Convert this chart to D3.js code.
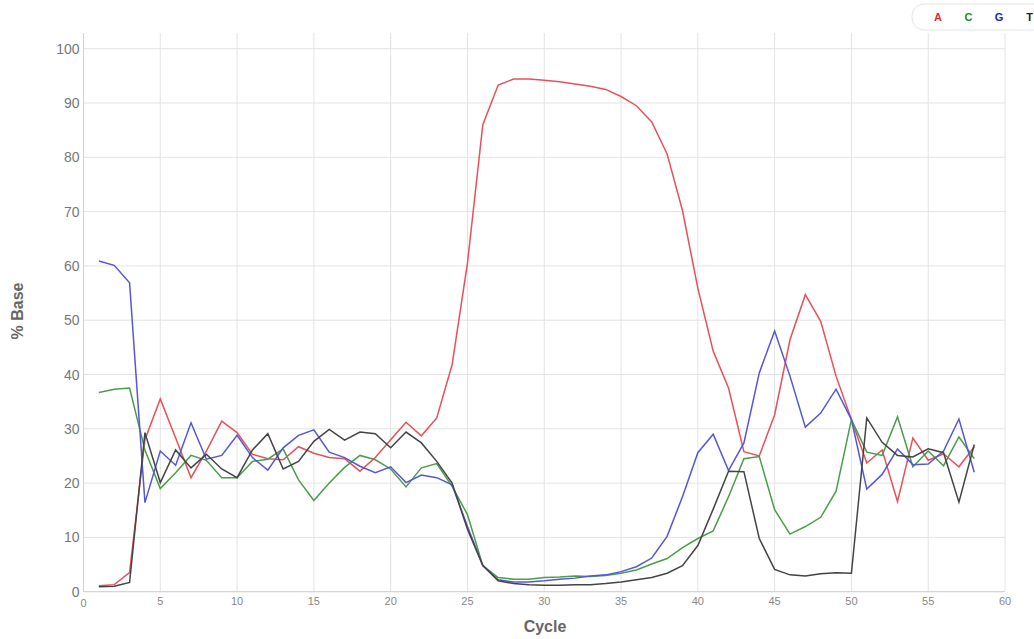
<!DOCTYPE html>
<html>
<head>
<meta charset="utf-8">
<script src="https://cdn.jsdelivr.net/npm/d3@7"></script>
<style>
  body { margin: 0; background: #fff; font-family: "Liberation Sans", Arial, sans-serif; }
</style>
</head>
<body>
<div id="chart"></div>
<script>
// per-cycle base composition, cycles 1..58
var cycles = d3.range(1, 59);
var baseA = [1.1, 1.3, 3.5, 28.0, 35.5, 28.3, 21.0, 25.9, 31.4, 29.3, 25.3, 24.5, 24.3, 26.7, 25.5, 24.7, 24.5, 22.2, 24.7, 28.0,
  31.2, 28.7, 32.0, 41.8, 60.5, 86.0, 93.3, 94.4, 94.4, 94.2, 93.9, 93.5, 93.1, 92.5, 91.2, 89.5, 86.5, 80.6, 70.2, 55.9,
  44.3, 37.5, 25.8, 25.0, 32.6, 46.4, 54.7, 49.8, 39.7, 31.7, 23.7, 26.1, 16.6, 28.3, 24.2, 25.4, 23.0, 26.7];
var baseC = [36.7, 37.3, 37.5, 26.1, 19.0, 21.9, 25.1, 24.2, 21.0, 21.0, 24.0, 24.4, 26.3, 20.6, 16.8, 20.0, 22.9, 25.1, 24.3, 22.6,
  19.3, 22.8, 23.6, 19.4, 14.2, 4.8, 2.6, 2.3, 2.3, 2.6, 2.7, 2.9, 2.8, 3.0, 3.4, 4.0, 5.1, 6.1, 8.1, 9.8,
  11.2, 17.5, 24.5, 24.9, 15.1, 10.6, 12.0, 13.7, 18.5, 31.7, 25.7, 25.1, 32.2, 23.0, 25.9, 23.2, 28.5, 24.5];
var baseG = [60.9, 60.1, 56.9, 16.4, 25.9, 23.3, 31.1, 24.4, 25.1, 28.8, 24.7, 22.4, 26.5, 28.8, 29.8, 25.7, 24.7, 23.1, 21.9, 23.0,
  20.1, 21.5, 21.0, 19.7, 12.0, 4.8, 2.2, 1.8, 1.8, 2.0, 2.3, 2.5, 2.9, 3.1, 3.7, 4.6, 6.2, 10.2, 17.5, 25.6,
  29.0, 22.3, 27.4, 40.3, 48.0, 39.7, 30.3, 32.9, 37.3, 31.7, 18.9, 21.6, 26.3, 23.4, 23.5, 25.9, 31.8, 22.0];
var baseT = [0.9, 1.0, 1.7, 29.3, 20.1, 26.1, 22.8, 25.3, 22.6, 21.0, 26.1, 29.1, 22.6, 24.0, 27.7, 29.9, 27.9, 29.4, 29.1, 26.5,
  29.4, 27.4, 24.0, 20.0, 11.5, 4.8, 2.0, 1.5, 1.3, 1.2, 1.2, 1.3, 1.3, 1.5, 1.8, 2.2, 2.6, 3.4, 4.8, 8.5,
  15.2, 22.2, 22.1, 9.8, 4.1, 3.1, 2.9, 3.3, 3.5, 3.4, 32.0, 27.5, 25.1, 24.8, 26.3, 25.6, 16.5, 27.1];

var baseNames = ["A", "C", "G", "T"];
var baseColors = ["#e8505a", "#4a9e4a", "#5555dd", "#444444"];
var legendColors = ["#dd2c3a", "#1f8a2a", "#2222bb", "#222222"];
var xTicks = d3.range(0, 61, 5);
var yTicks = d3.range(0, 101, 10);

var series = [baseA, baseC, baseG, baseT];

var width = 1034, height = 639;
var svg = d3.select("#chart").append("svg")
  .attr("width", width).attr("height", height);

var x = d3.scaleLinear().domain([0, 60]).range([83.5, 1005]);
var y = d3.scaleLinear().domain([0, 100]).range([591.7, 48.7]);
var plotTop = 33;

// grid
svg.append("g").selectAll("line.v")
  .data(xTicks).enter().append("line")
  .attr("x1", d => x(d)).attr("x2", d => x(d))
  .attr("y1", plotTop).attr("y2", y(0))
  .attr("stroke", "#e3e3e3").attr("stroke-width", 1);

svg.append("g").selectAll("line.h")
  .data(yTicks).enter().append("line")
  .attr("x1", x(0)).attr("x2", x(60))
  .attr("y1", d => y(d)).attr("y2", d => y(d))
  .attr("stroke", "#e3e3e3").attr("stroke-width", 1);

// axis lines
svg.append("line")
  .attr("x1", x(0)).attr("x2", x(0)).attr("y1", plotTop).attr("y2", y(0))
  .attr("stroke", "#d0d0d0");
svg.append("line")
  .attr("x1", x(0)).attr("x2", x(60)).attr("y1", y(0)).attr("y2", y(0))
  .attr("stroke", "#d0d0d0");

// tick labels
svg.append("g").selectAll("text")
  .data(yTicks).enter().append("text")
  .attr("x", x(0) - 4).attr("y", d => y(d) + 5)
  .attr("text-anchor", "end")
  .attr("font-size", 14).attr("fill", "#777")
  .text(d => d);

svg.append("g").selectAll("text")
  .data(xTicks).enter().append("text")
  .attr("x", d => x(d)).attr("y", d => d === 0 ? y(0) + 15 : y(0) + 13)
  .attr("text-anchor", "middle")
  .attr("font-size", 11).attr("fill", "#888")
  .text(d => d);

// axis titles
svg.append("text")
  .attr("x", 545).attr("y", 632)
  .attr("text-anchor", "middle")
  .attr("font-size", 16).attr("font-weight", "bold").attr("fill", "#666")
  .text("Cycle");

svg.append("text")
  .attr("transform", "translate(23," + 311 + ") rotate(-90)")
  .attr("text-anchor", "middle")
  .attr("font-size", 16).attr("font-weight", "bold").attr("fill", "#666")
  .text("% Base");

// lines
var line = d3.line()
  .x((d, i) => x(cycles[i]))
  .y(d => y(d));

svg.append("g").selectAll("path")
  .data(series).enter().append("path")
  .attr("d", d => line(d))
  .attr("fill", "none")
  .attr("stroke", (d, i) => baseColors[i])
  .attr("stroke-width", 1.5);

// legend
svg.append("rect")
  .attr("x", 912).attr("y", 4).attr("width", 140).attr("height", 26)
  .attr("rx", 12).attr("ry", 12)
  .attr("fill", "#fff").attr("stroke", "#e6e6e6");

svg.append("g").selectAll("text")
  .data(baseNames).enter().append("text")
  .attr("x", (d, i) => 938 + i * 30.5).attr("y", 21)
  .attr("text-anchor", "middle")
  .attr("font-size", 11).attr("font-weight", "bold")
  .attr("fill", (d, i) => legendColors[i])
  .text(d => d);
</script>
</body>
</html>
